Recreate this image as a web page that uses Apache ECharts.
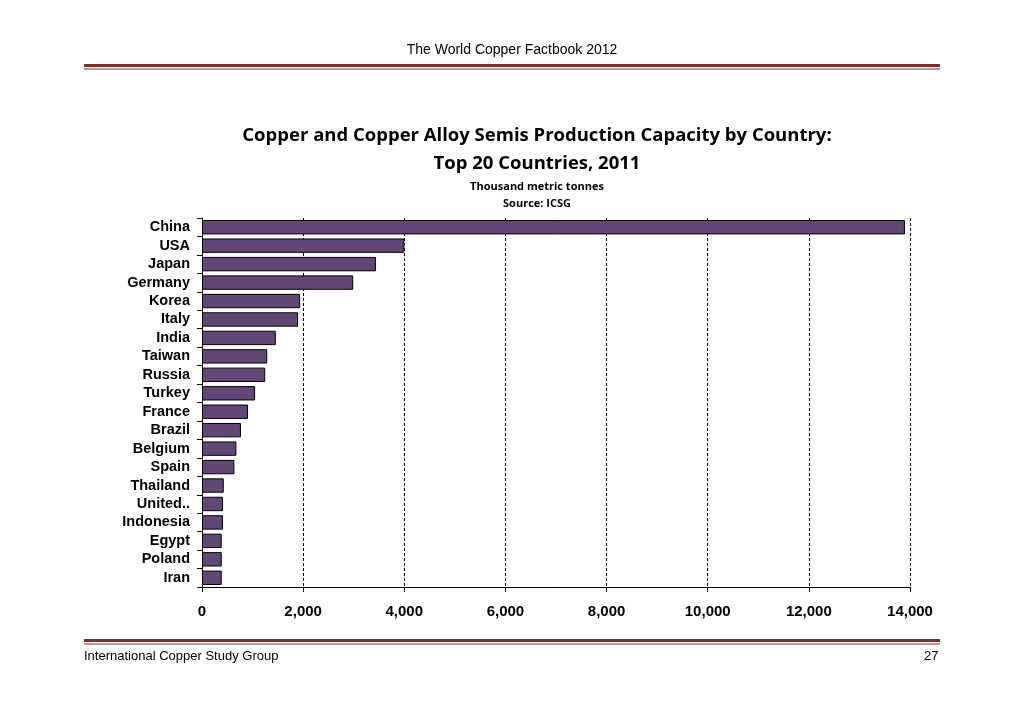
<!DOCTYPE html>
<html><head><meta charset="utf-8">
<script src="https://cdn.jsdelivr.net/npm/echarts@6/dist/echarts.min.js"></script>
<style>html,body{margin:0;background:#fff}#c{width:1024px;height:725px}</style>
</head><body><div id="c"></div>
<script>
const countries = ['China','USA','Japan','Germany','Korea','Italy','India','Taiwan','Russia','Turkey','France','Brazil','Belgium','Spain','Thailand','United Kingdom','Indonesia','Egypt','Poland','Iran'];
const capacity = [13900,4000,3440,2990,1940,1900,1460,1290,1250,1050,910,770,680,640,430,415,415,390,390,390];

let chart = echarts.init(document.getElementById('c'));
const lineColor = '#7a2e2e';
chart.setOption({
    backgroundColor: '#fff',
    animation: false,
    title: [{
        text: 'Copper and Copper Alloy Semis Production Capacity by Country:\nTop 20 Countries, 2011',
        left: 532, top: 117, textAlign: 'center',
        textStyle: {fontFamily: 'Open Sans', fontSize: 18.5, fontWeight: 'bold', lineHeight: 28, color: '#000'}
    }, {
        text: 'Thousand metric tonnes\nSource: ICSG',
        left: 532, top: 173, textAlign: 'center',
        textStyle: {fontFamily: 'Open Sans', fontSize: 11, fontWeight: 'bold', lineHeight: 17, color: '#000'}
    }],
    graphic: [
        {type: 'text', left: 'center', top: 43, style: {text: 'The World Copper Factbook 2012', font: '14px Liberation Sans', fill: '#000'}},
        {type: 'rect', shape: {x: 84, y: 64, width: 856, height: 3}, style: {fill: lineColor}},
        {type: 'rect', shape: {x: 84, y: 68.5, width: 856, height: 1}, style: {fill: lineColor}},
        {type: 'rect', shape: {x: 84, y: 639, width: 856, height: 3}, style: {fill: lineColor}},
        {type: 'rect', shape: {x: 84, y: 643.5, width: 856, height: 1}, style: {fill: lineColor}},
        {type: 'text', left: 84, top: 650, style: {text: 'International Copper Study Group', font: '13px Liberation Sans', fill: '#000'}},
        {type: 'text', left: 924, top: 650, style: {text: '27', font: '13px Liberation Sans', fill: '#000'}}
    ],
    grid: {left: 202, right: 114, top: 218, bottom: 138},
    xAxis: {
        type: 'value', min: 0, max: 14000, interval: 2000,
        axisLine: {show: true, lineStyle: {color: '#000'}},
        axisTick: {show: true, length: 5, lineStyle: {color: '#000'}},
        axisLabel: {fontFamily: 'Liberation Sans', fontWeight: 'bold', fontSize: 15, color: '#000', margin: 17,
            formatter: v => v.toLocaleString('en-US')},
        splitLine: {show: true, lineStyle: {color: '#000', type: [3, 2], width: 1}}
    },
    yAxis: {
        type: 'category', data: countries, inverse: true,
        axisLine: {show: true, lineStyle: {color: '#000'}},
        axisTick: {show: true, length: 5, lineStyle: {color: '#000'}},
        axisLabel: {interval: 0, fontFamily: 'Liberation Sans', fontWeight: 'bold', fontSize: 14.5, color: '#000', margin: 12,
            formatter: v => v.length > 10 ? 'United..' : v}
    },
    series: [{
        type: 'bar', data: capacity, barCategoryGap: '22%',
        itemStyle: {color: '#624776', borderColor: '#000', borderWidth: 1}
    }]
});
</script></body></html>
